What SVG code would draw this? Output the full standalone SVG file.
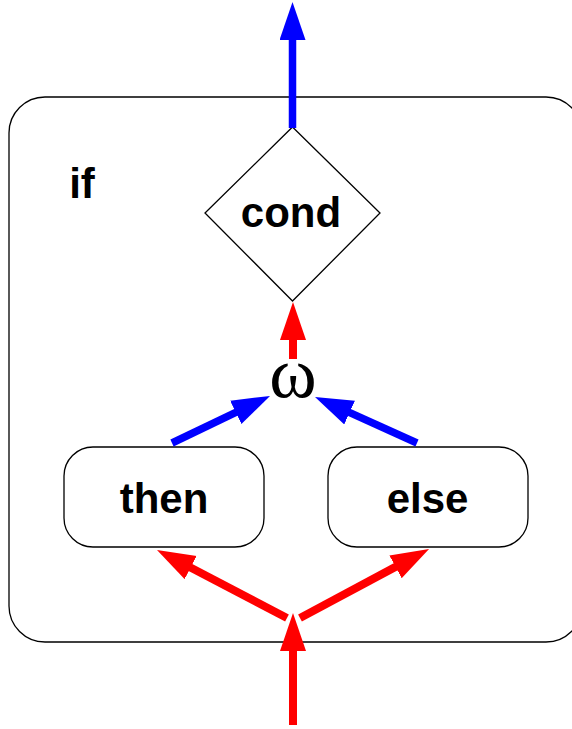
<svg xmlns="http://www.w3.org/2000/svg" width="572" height="729" viewBox="0 0 572 729">
<style>
.box{fill:#fff;stroke:#000;stroke-width:1.3}
.lbl{font-family:"Liberation Sans",Arial,sans-serif;font-weight:bold;font-size:42px;fill:#000;text-anchor:middle}
.red{stroke:#ff0000;stroke-width:8;fill:none}
.blue{stroke:#0000ff;stroke-width:7.5;fill:none}
</style>
<defs>
<marker id="ahR" markerUnits="userSpaceOnUse" markerWidth="40" markerHeight="28" refX="18" refY="13" orient="auto"><path d="M0,0 L38,13 L0,26 z" fill="#ff0000"/></marker>
<marker id="ahB" markerUnits="userSpaceOnUse" markerWidth="40" markerHeight="28" refX="18" refY="13" orient="auto"><path d="M0,0 L38,13 L0,26 z" fill="#0000ff"/></marker>
</defs>
<g id="if">
<rect class="box" x="9" y="97" width="573" height="545" rx="36" ry="36"/>
<text class="lbl" x="82" y="198">if</text>
</g>
<g id="cond">
<polygon class="box" points="292.5,127 380,213 292.5,301 205,213" stroke-width="1"/>
<text class="lbl" x="291" y="227">cond</text>
</g>
<g id="then">
<rect class="box" x="64" y="447" width="200" height="100" rx="29" ry="29"/>
<text class="lbl" x="164" y="513">then</text>
</g>
<g id="else">
<rect class="box" x="328" y="447" width="200" height="100" rx="29" ry="29"/>
<text class="lbl" x="427.5" y="513">else</text>
</g>
<g id="omega">
<text x="293" y="397" font-family="'Liberation Serif','Times New Roman',serif" font-size="72" text-anchor="middle" fill="#000">ω</text>
</g>
<g id="connectors">
<line class="blue" x1="292.5" y1="128" x2="292.5" y2="22" marker-end="url(#ahB)"/>
<line class="red" x1="293" y1="359" x2="293" y2="322" marker-end="url(#ahR)"/>
<line class="blue" x1="172" y1="443" x2="252" y2="404.6" marker-end="url(#ahB)"/>
<line class="blue" x1="417" y1="443" x2="333.2" y2="405.2" marker-end="url(#ahB)"/>
<line class="red" x1="287" y1="618" x2="174.7" y2="559.3" marker-end="url(#ahR)"/>
<line class="red" x1="300" y1="618" x2="411.4" y2="558.4" marker-end="url(#ahR)"/>
<line class="red" x1="293" y1="725" x2="293" y2="633" marker-end="url(#ahR)"/>
</g>
</svg>
